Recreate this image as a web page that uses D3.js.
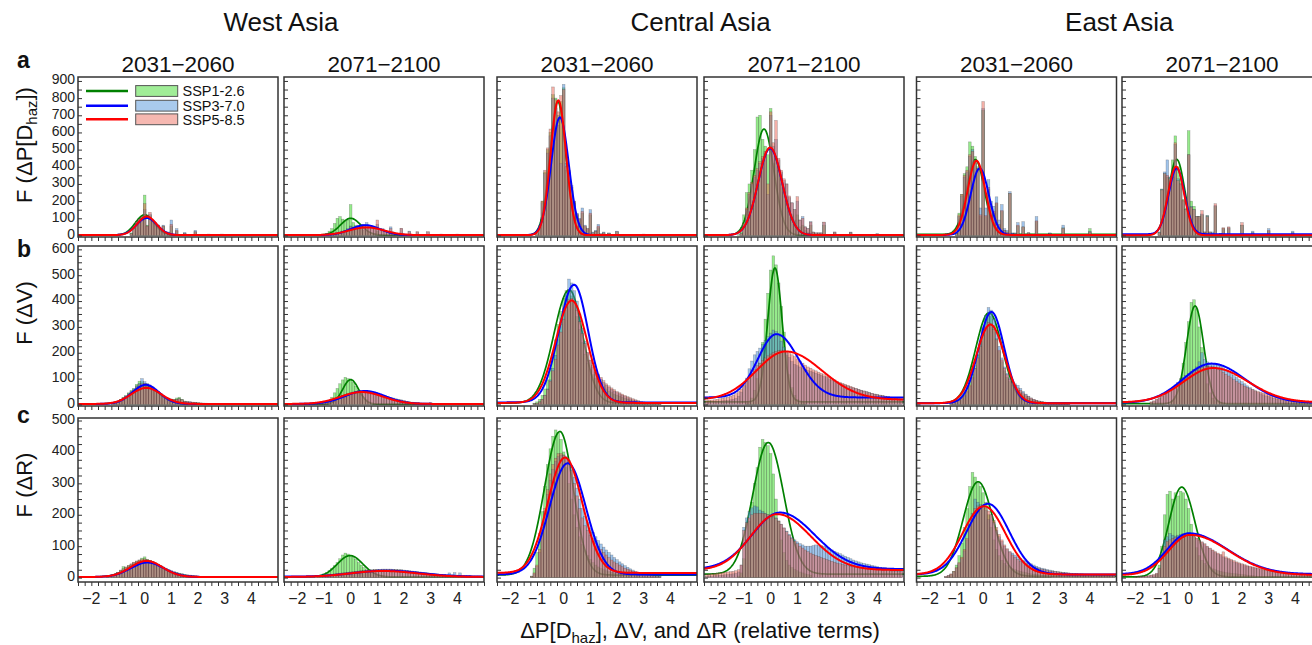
<!DOCTYPE html>
<html><head><meta charset="utf-8">
<script src="https://cdn.jsdelivr.net/npm/d3@7"></script>
<style>body{margin:0;background:#fff;} svg{display:block;font-family:"Liberation Sans",Arial,Helvetica,sans-serif;}</style>
</head><body><svg id="chart" width="1312" height="645"></svg>
<script>
// ---------- labels ----------
const regions = ["West Asia", "Central Asia", "East Asia"];
const periods = ["2031\u22122060", "2071\u22122100"];
const scenarios = ["SSP1-2.6", "SSP3-7.0", "SSP5-8.5"];
const rowLetters = ["a", "b", "c"];
const xTickLabels = [-2, -1, 0, 1, 2, 3, 4];
const yTickLabelsA = [0, 100, 200, 300, 400, 500, 600, 700, 800, 900];
const yTickLabelsB = [0, 100, 200, 300, 400, 500, 600];
const yTickLabelsC = [0, 100, 200, 300, 400, 500];
const binWidth = 0.1;

// ---------- histograms: [SSP1-2.6, SSP3-7.0, SSP5-8.5], starts = first bin centre ----------
const startsA1 = [-0.5, -0.5, -0.5];
const countsA1 = [
 [15,50,80,100,110,235,60,115,85,70,60,35,55,20,15,55,5,25,0,0,10,0,0,0,20,0,0,0,0,5,0,0,0,0,5],
 [10,40,75,95,105,150,55,125,90,75,60,40,60,20,20,90,5,40,0,0,18,0,0,0,30,0,0,0,0,8,0,0,0,0,8],
 [10,40,80,95,110,185,55,135,85,70,60,40,55,20,15,65,5,30,0,0,12,0,0,0,22,0,0,0,0,6,0,0,0,0,6]];
const startsA2 = [-1.0, -1.0, -1.0];
const countsA2 = [
 [5,10,25,40,70,100,110,95,85,90,180,75,60,45,40,30,25,20,15,10,25,5,5,5,0,10,0,0,0,10,0,0,8],
 [0,2,5,8,12,15,20,25,30,40,55,45,50,55,60,65,75,60,55,45,65,35,40,30,25,50,20,10,10,40,5,5,25,5,5,20,0,0,0,20,0,0,0,0,8,0,0,0,0,0,8],
 [0,2,4,6,10,12,18,22,28,35,50,42,45,50,52,55,60,58,50,45,90,35,35,30,25,40,20,10,10,42,5,5,22,5,5,22,0,0,0,22,0,0,0,0,5,0,0,0,0,0,5]];
const startsA3 = [-1.0, -1.0, -1.0];
const countsA3 = [
 [10,50,200,370,500,600,820,800,700,780,860,380,350,260,190,120,90,130,50,35,120,15,25,45,8,15,5,12,0,0,20,0,0,0,0,5,0,0,0,0,6],
 [5,45,190,360,480,580,800,740,640,420,880,420,380,290,200,130,100,160,60,40,150,20,30,65,10,20,5,15,0,0,25,0,0,0,0,5,0,0,0,0,8],
 [10,55,200,380,510,620,865,790,720,815,850,400,370,280,200,125,95,140,55,40,130,15,25,55,8,15,5,12,0,0,22,0,0,0,0,5,0,0,0,0,6]];
const startsA4 = [-1.2, -1.2, -1.2];
const countsA4 = [
 [5,20,120,250,300,380,500,690,700,560,520,470,740,420,450,380,300,250,200,150,120,90,120,50,60,30,20,60,15,10,10,10,60,5,5,5,15,5,0,0,0,0,15,0,0,0,0,0,0,0,0,0,8],
 [0,10,60,150,240,300,340,380,420,450,480,240,700,520,560,440,370,320,300,220,190,150,200,90,110,50,40,80,20,15,15,15,75,5,5,5,20,5,0,0,0,0,20,0,0,0,0,0,0,0,0,0,10],
 [0,10,70,160,250,310,350,390,430,460,490,300,720,540,670,450,380,330,300,230,190,150,226,90,100,50,40,78,20,15,15,15,78,5,5,5,20,5,0,0,0,0,18,0,0,0,0,0,0,0,0,0,8]];
const startsA5 = [-1.0, -1.0, -1.0];
const countsA5 = [
 [15,130,240,360,400,545,520,460,400,110,730,110,270,165,130,185,60,140,30,20,245,10,10,55,5,50,5,15,5,5,80,0,0,0,0,12,0,0,0,0,45,0,0,0,0,0,0,0,0,0,40],
 [10,110,230,340,370,460,500,420,380,160,740,160,325,200,170,225,90,180,40,30,255,15,15,75,5,80,5,15,5,5,110,0,0,0,0,15,0,0,0,0,60,0,0,0,0,0,0,0,0,0,25],
 [10,120,240,350,380,470,490,440,390,120,780,115,280,170,140,190,65,145,30,20,245,10,10,60,5,50,5,15,8,5,85,0,0,0,0,10,0,0,0,0,42,0,0,0,0,0,0,0,0,0,20]];
const startsA6 = [-1.1, -1.1, -1.1];
const countsA6 = [
 [20,270,360,340,340,440,580,400,330,210,160,610,200,170,110,110,120,20,115,20,10,170,5,10,40,5,40,5,5,5,5,60,0,0,0,15,0,0,0,0,0,25,0,0,0,0,0,0,0,0,15],
 [20,270,370,440,340,340,530,330,300,200,150,470,170,150,110,110,125,20,115,20,20,175,5,10,40,5,45,5,5,5,5,60,0,0,0,25,0,0,0,0,0,40,0,0,0,0,0,0,0,0,25],
 [15,265,360,350,330,340,540,320,300,205,150,470,165,150,110,110,145,20,110,20,10,185,5,10,45,5,50,5,5,5,5,75,0,0,0,15,0,0,0,0,0,30,0,0,0,0,0,0,0,0,15]];

const startsB1 = [-1.2, -1.2, -1.2];
const countsB1 = [
 [4,7,12,20,28,35,45,55,62,78,90,88,80,78,70,62,52,45,38,30,25,22,20,20,25,28,20,12,10,9,8,7,6,5,4,4,3,3,3,2,2,2,2],
 [5,8,12,18,25,32,42,50,60,72,82,100,88,82,75,68,58,50,42,33,27,23,20,18,20,22,18,12,10,10,8,8,6,5,5,4,4,3,3,3,2,2,2],
 [6,9,13,18,25,32,40,48,56,68,76,80,82,78,70,64,55,48,40,32,27,24,21,19,20,22,18,13,11,10,9,8,7,6,5,5,4,4,3,3,3,2,2]];
const startsB2 = [-1.6, -1.6, -1.6];
const countsB2 = [
 [0,0,0,1,2,3,5,8,15,28,45,62,80,95,105,100,95,85,70,55,40,28,18,10,6,4,3,2,2,1,1],
 [2,3,4,5,6,8,10,12,15,18,22,26,30,34,38,42,45,48,50,52,53,54,53,52,50,47,44,40,37,34,30,27,25,22,20,18,15,12,10,8,7,6,5,5,4,4,8,3,3,2,2,2],
 [2,3,4,5,6,8,10,12,15,18,21,25,29,33,37,40,43,45,47,48,49,48,47,46,44,42,39,36,33,30,27,25,22,20,18,16,14,12,10,9,8,7,6,5,5,4,4,3,3,2,2,2]];
const startsB3 = [-1.1, -1.1, -1.1];
const countsB3 = [
 [5,10,20,35,60,95,140,190,250,310,360,410,440,445,420,390,340,290,240,195,160,135,115,100,90,78,68,60,52,46,40,36,32,28,24,20,17,14,11,9,8,6,5,4,3,3,2,2],
 [2,4,10,20,36,60,95,140,190,250,310,370,430,485,470,440,400,350,295,245,200,170,145,125,112,98,85,75,66,58,52,46,41,36,31,26,22,18,15,12,10,8,6,5,4,3,3,2],
 [3,5,10,20,35,58,90,130,175,230,280,330,375,405,410,395,365,320,275,235,200,172,150,132,118,105,92,80,72,64,57,50,45,40,35,30,26,22,18,15,12,10,8,6,5,4,3,3]];
const startsB4 = [-0.9, -2.4, -2.4];
const countsB4 = [
 [5,12,25,55,100,160,240,330,430,520,575,540,470,380,280,190,115,65,35,20,12,7,4],
 [10,10,11,12,12,13,14,15,16,18,20,24,32,48,72,102,138,168,192,205,218,232,248,262,276,288,282,265,245,222,200,182,166,155,150,145,140,136,132,128,125,121,117,113,108,104,99,94,90,86,82,78,75,71,67,64,61,58,55,52,49,46,43,40,38,36,34,32,30,28,26,24,22,21],
 [15,16,17,18,20,22,24,26,28,32,36,42,50,60,75,90,105,120,135,150,160,170,180,188,195,200,205,208,210,208,205,200,192,185,176,168,160,152,145,140,134,130,125,120,115,110,105,100,95,90,86,82,78,74,70,66,62,58,55,52,49,46,43,40,38,36,34,32,30,28,26,24,22,21]];
const startsB5 = [-1.2, -1.2, -1.2];
const countsB5 = [
 [8,12,18,28,42,55,70,90,118,150,195,245,295,335,350,340,305,255,205,165,130,105,88,75,64,54,45,37,30,25,20,16,13,11,9,8,7,6,5,4,4,3,3,2,2],
 [4,7,10,15,22,32,48,70,100,140,190,245,300,345,375,365,330,280,225,180,145,120,100,88,80,74,62,50,40,32,25,20,16,13,11,9,8,7,6,5,4,4,3,3,2],
 [5,8,12,18,26,36,52,75,105,140,180,225,268,300,318,312,290,250,210,172,140,115,97,84,74,64,54,45,37,30,25,20,16,13,11,9,8,7,6,5,4,4,3,3,2]];
const startsB6 = [-0.7, -1.4, -1.4];
const countsB6 = [
 [8,15,30,60,100,160,240,320,395,405,370,300,220,140,80,45,25,15,10,6,4],
 [8,12,18,25,32,40,48,56,65,75,85,95,105,112,120,128,136,145,165,200,175,165,160,158,155,152,148,142,136,128,120,112,104,96,88,80,72,65,58,52,46,41,37,33,30,27,24,21,19,17,15,14,13,12,11,10,10,9,9,8,8,8,7,7],
 [10,14,20,26,33,40,47,54,62,70,78,86,94,102,110,118,125,132,138,143,146,148,148,146,142,137,131,124,117,110,103,96,89,83,77,71,66,61,57,53,50,47,44,41,38,35,32,29,27,25,23,21,19,17,16,15,14,13,12,11,10,10,9,9]];

const startsC1 = [-1.4, -1.4, -1.4];
const countsC1 = [
 [3,5,8,12,17,24,35,33,38,42,48,52,56,62,66,58,55,50,46,42,37,32,28,24,21,18,16,14,12,10,8,7,6,5,4,4,3,3,3,2,2,2,2,2,2],
 [2,4,7,11,16,21,26,31,36,41,46,50,53,55,57,56,54,51,47,43,38,34,30,26,22,19,16,14,12,10,9,8,7,6,5,4,4,3,3,3,2,2,2,2,2],
 [3,5,8,12,17,23,29,34,39,44,49,53,56,59,60,58,55,51,47,42,37,32,27,23,20,17,14,12,10,8,7,6,5,4,4,3,3,3,2,2,2,2,2,2,2]];
const startsC2 = [-1.2, -2.0, -2.0];
const countsC2 = [
 [5,8,12,17,22,30,38,48,60,72,78,75,70,65,58,48,40,32,25,18,13,9,6,4,3,2,1],
 [1,1,2,2,3,3,4,4,5,6,7,8,9,10,11,12,13,14,15,16,17,18,19,20,21,22,23,24,25,25,26,26,27,27,27,27,26,26,25,25,24,23,22,21,20,19,18,17,16,15,14,13,12,11,10,10,9,15,9,16,8,15,7,7,6,6,5,5,5,4],
 [1,1,2,2,3,3,4,5,5,6,7,8,9,10,12,13,14,15,16,17,18,19,20,21,22,22,23,24,24,25,25,26,26,26,26,26,25,25,24,24,23,22,21,20,19,18,17,16,15,14,13,12,11,10,9,9,8,8,7,7,6,6,5,5,5,4,4,4,3,3]];
const startsC3 = [-1.2, -1.2, -1.2];
const countsC3 = [
 [5,30,80,140,210,290,360,410,450,470,460,440,400,350,300,250,200,160,130,105,85,70,58,48,40,34,29,25,22,19,17,15,13,11,10,9,8,7,6,5,5,4,4,3,3,3,2,2,2],
 [3,12,35,80,150,210,265,310,345,370,385,390,390,385,372,350,320,285,250,220,195,175,158,143,130,118,107,97,88,80,72,64,57,50,44,38,33,28,24,20,17,14,12,10,8,7,6,5,4],
 [4,15,40,90,160,220,280,330,360,380,395,395,390,380,365,340,300,260,220,190,165,150,135,125,110,100,90,80,72,64,56,50,45,40,35,30,27,24,20,17,14,12,10,8,7,6,5,4,3]];
const startsC4 = [-1.2, -2.4, -2.4];
const countsC4 = [
 [5,15,60,120,180,240,300,350,415,440,430,420,395,330,250,180,120,80,55,40,32,26,22,18,15,12,10,8],
 [4,5,5,6,6,7,8,9,10,11,12,14,18,40,160,190,210,222,228,225,215,210,205,200,198,195,190,180,170,158,148,138,128,120,114,108,104,100,100,100,102,104,104,102,100,96,92,88,84,80,76,72,68,64,60,56,53,50,47,45,43,41,39,37,35,33,32,31,30,29,28,27,26,25],
 [10,11,12,13,14,15,16,17,18,19,20,22,25,40,150,175,190,200,205,205,205,205,203,200,197,193,188,180,170,158,146,135,125,116,108,100,94,88,83,78,74,70,67,64,61,58,55,52,49,46,44,42,40,38,36,34,33,32,31,30,29,28,27,26,25,24,23,22,22,21,21,20,20,20]];
const startsC5 = [-1.4, -1.4, -1.4];
const countsC5 = [
 [2,5,10,20,40,70,110,160,220,290,335,320,300,290,270,240,200,160,120,90,70,55,45,38,32,28,25,22,20,18,16,14,12,11,10,9,8,7,6,5],
 [3,6,10,18,30,45,60,85,120,170,205,250,240,232,228,215,185,200,175,150,130,115,100,90,82,78,72,66,60,56,52,48,44,40,36,33,30,28,26,24,22,20,19,18,17,16,15,14,13,13,12,12,11,11,10,10,9,9,8,8,8,7,7,7],
 [4,7,12,20,32,48,65,90,125,165,195,220,228,228,225,220,212,200,182,160,138,120,104,92,82,72,65,58,52,48,44,40,37,34,31,29,27,25,23,21,20,19,18,17,16,15,14,13,12,12,11,11,10,10,9,9,8,8,8,7,7,7,6,6]];
const startsC6 = [-1.3, -2.0, -2.0];
const countsC6 = [
 [3,10,40,100,200,265,275,250,270,260,275,270,250,220,170,130,95,70,55,45,38,32,28,25,22,20,18,16,15,14,13,12,11,10,9,8,7,6,5],
 [2,2,3,3,4,5,6,8,12,30,80,120,130,140,135,132,135,138,140,140,138,135,130,124,118,112,105,98,92,86,80,75,70,66,62,58,54,50,47,44,41,38,36,34,32,30,28,26,24,22,21,20,19,18,17,16,15,14,14,13,13,12,12,11,11,10,10,10,9,9],
 [3,3,4,4,5,6,8,10,14,30,70,100,115,120,125,128,130,132,134,135,135,134,130,126,120,114,108,100,94,88,83,78,74,82,66,62,58,54,50,47,44,41,38,36,34,32,30,28,26,24,22,21,20,19,18,17,16,15,14,13,12,12,11,11,10,10,10,9,9,9]];

// ---------- fitted curves: [amplitude, centre, sigma left, sigma right, baseline] ----------
const fitA1 = [[118,0.0,0.35,0.35,2],[100,0.08,0.38,0.38,2],[108,0.08,0.36,0.36,2]];
const fitA2 = [[98,0.0,0.38,0.38,2],[58,0.55,0.55,0.55,2],[45,0.6,0.65,0.65,2]];
const fitA3 = [[778,-0.22,0.30,0.30,2],[686,-0.14,0.33,0.33,2],[784,-0.2,0.29,0.29,2]];
const fitA4 = [[618,-0.25,0.37,0.37,2],[505,-0.02,0.45,0.45,2],[510,-0.02,0.45,0.45,2]];
const fitA5 = [[436,-0.29,0.33,0.33,6],[388,-0.13,0.34,0.34,3],[432,-0.25,0.33,0.33,3]];
const fitA6 = [[440,-0.45,0.30,0.30,3],[385,-0.45,0.30,0.30,7],[400,-0.47,0.30,0.30,1]];
const fitB1 = [[70,0.02,0.5,0.5,2],[74,0.04,0.5,0.5,2],[62,0.06,0.56,0.56,2]];
const fitB2 = [[95,0.0,0.3,0.3,1],[50,0.54,0.75,0.75,2],[46,0.42,0.8,0.8,2]];
const fitB3 = [[438,0.21,0.58,0.5,5],[455,0.39,0.57,0.53,8],[396,0.3,0.6,0.58,6]];
const fitB4 = [[518,0.16,0.27,0.27,10],[245,0.22,0.7,0.83,27],[187,0.57,1.1,1.35,18]];
const fitB5 = [[350,0.22,0.5,0.5,5],[353,0.31,0.48,0.48,5],[304,0.27,0.53,0.53,5]];
const fitB6 = [[378,0.24,0.32,0.32,3],[152,0.86,1.07,1.25,6],[133,0.92,1.1,1.3,8]];
const fitC1 = [[50,0.05,0.6,0.6,2],[46,0.1,0.62,0.62,2],[51,0.07,0.6,0.6,2]];
const fitC2 = [[68,-0.02,0.48,0.48,2],[19,1.3,1.2,1.3,3],[19,1.2,1.2,1.3,2]];
const fitC3 = [[457,-0.14,0.58,0.5,8],[354,0.15,0.68,0.68,10],[367,0.05,0.65,0.65,15]];
const fitC4 = [[419,-0.09,0.58,0.58,11],[180,0.35,1.05,1.3,27],[178,0.25,1.0,1.25,24]];
const fitC5 = [[301,-0.19,0.56,0.56,4],[225,0.18,0.8,0.8,10],[217,0.03,0.8,0.8,10]];
const fitC6 = [[286,-0.26,0.48,0.5,2],[130,0.0,0.8,1.45,11],[128,0.05,0.8,1.45,8]];

// ---------- assemble ----------
const panels = [
 [countsA1,startsA1,fitA1],[countsA2,startsA2,fitA2],[countsA3,startsA3,fitA3],
 [countsA4,startsA4,fitA4],[countsA5,startsA5,fitA5],[countsA6,startsA6,fitA6],
 [countsB1,startsB1,fitB1],[countsB2,startsB2,fitB2],[countsB3,startsB3,fitB3],
 [countsB4,startsB4,fitB4],[countsB5,startsB5,fitB5],[countsB6,startsB6,fitB6],
 [countsC1,startsC1,fitC1],[countsC2,startsC2,fitC2],[countsC3,startsC3,fitC3],
 [countsC4,startsC4,fitC4],[countsC5,startsC5,fitC5],[countsC6,startsC6,fitC6]];
const yTickLabels = [yTickLabelsA, yTickLabelsB, yTickLabelsC];
const yTickStep = [50, 25, 25];

// ---------- layout / style ----------
const svg = d3.select("#chart");
const panelLefts = [78, 284, 497, 704, 916.5, 1122];
const panelW = 200;
const xDomain = [-2.5, 5];
const rowBox = [
 {top: 77, bottom: 237, dom: [-9, 923]},
 {top: 246, bottom: 406, dom: [-6, 613]},
 {top: 418, bottom: 582, dom: [-14, 508]}];
const fillCol = ["#2dd719", "#4189d7", "#ea6152"];
const lineCol = ["#008000", "#0000ff", "#ff0000"];
const frameCol = "#333";
const defs = svg.append("defs");

function fitValue(p, v) {
  const s = v < p[1] ? p[2] : p[3];
  return p[4] + p[0] * Math.exp(-0.5 * ((v - p[1]) / s) ** 2);
}
const xSamples = d3.range(xDomain[0], xDomain[1] + 1e-9, 0.02);

panels.forEach((pd, k) => {
  const [counts, starts, fits] = pd;
  const row = Math.floor(k / 6), col = k % 6;
  const x0 = panelLefts[col];
  const rb = rowBox[row];
  const x = d3.scaleLinear().domain(xDomain).range([x0, x0 + panelW]);
  const y = d3.scaleLinear().domain(rb.dom).range([rb.bottom, rb.top]);
  const cid = "clip" + k;
  defs.append("clipPath").attr("id", cid).append("rect")
    .attr("x", x0).attr("y", rb.top).attr("width", panelW).attr("height", rb.bottom - rb.top);
  const g = svg.append("g");
  const inner = g.append("g").attr("clip-path", `url(#${cid})`);
  const bw = x(binWidth) - x(0);
  const drawHist = s => {
    const bins = counts[s].map((c, i) => ({c, m: starts[s] + i * binWidth})).filter(d => d.c > 0);
    inner.append("g").selectAll("rect").data(bins).join("rect")
      .attr("x", d => x(d.m - binWidth / 2))
      .attr("width", bw)
      .attr("y", d => y(d.c))
      .attr("height", d => y(0) - y(d.c))
      .attr("fill", fillCol[s]).attr("fill-opacity", 0.5)
      .attr("stroke", "#333").attr("stroke-opacity", 0.4).attr("stroke-width", 0.5);
  };
  const drawCurve = s => {
    const line = d3.line().x(v => x(v)).y(v => y(fitValue(fits[s], v)));
    inner.append("path").datum(xSamples).attr("d", line)
      .attr("fill", "none").attr("stroke", lineCol[s])
      .attr("stroke-width", s === 0 ? 1.7 : 2);
  };
  drawHist(0); drawCurve(0); drawHist(1); drawHist(2); drawCurve(1); drawCurve(2);
  // y ticks (inside, left)
  const yMax = yTickLabels[row][yTickLabels[row].length - 1];
  const yAx = d3.axisRight(y).tickValues(d3.range(0, yMax + 1, yTickStep[row])).tickSize(4).tickFormat("");
  const ya = g.append("g").attr("transform", `translate(${x0},0)`).call(yAx);
  ya.select(".domain").remove();
  ya.selectAll("line").attr("stroke", frameCol);
  // x ticks (outside, bottom)
  const xAx = d3.axisBottom(x).tickValues(d3.range(-2.5, 5.001, 0.25)).tickSize(4).tickFormat("");
  const xa = g.append("g").attr("transform", `translate(0,${rb.bottom})`).call(xAx);
  xa.select(".domain").remove();
  xa.selectAll("line").attr("stroke", frameCol);
  // frame
  g.append("rect").attr("x", x0).attr("y", rb.top).attr("width", panelW).attr("height", rb.bottom - rb.top)
    .attr("fill", "none").attr("stroke", frameCol).attr("stroke-width", 1.5);
  if (col === 0) {
    g.selectAll("text.yl").data(yTickLabels[row]).join("text")
      .attr("x", x0 - 3).attr("y", d => y(d) - 1.5).attr("dy", "0.35em")
      .attr("text-anchor", "end").attr("font-size", 14).attr("fill", "#222")
      .text(d => d);
  }
  if (row === 2) {
    g.selectAll("text.xl").data(xTickLabels).join("text")
      .attr("x", d => x(d)).attr("y", 604)
      .attr("text-anchor", "middle").attr("font-size", 16).attr("fill", "#222")
      .text(d => d < 0 ? "\u2212" + Math.abs(d) : d);
  }
  if (row === 0) {
    g.append("text").attr("x", x0 + panelW / 2).attr("y", 72)
      .attr("text-anchor", "middle").attr("font-size", 22.5).attr("fill", "#111")
      .text(periods[col % 2]);
  }
});

// region titles
regions.forEach((r, i) => {
  const cx = (panelLefts[2 * i] + panelLefts[2 * i + 1] + panelW) / 2;
  svg.append("text").attr("x", cx).attr("y", 31).attr("text-anchor", "middle")
    .attr("font-size", 26).attr("fill", "#111").text(r);
});

// row letters
const letterY = [68, 257, 423];
rowLetters.forEach((l, i) => {
  svg.append("text").attr("x", 17).attr("y", letterY[i]).attr("font-size", 23)
    .attr("font-weight", "bold").attr("fill", "#111").text(l);
});

// y axis titles (rotated)
const yTitleY = [145, 313, 485];
function yTitle(cy, parts) {
  const t = svg.append("text").attr("transform", `translate(32,${cy}) rotate(-90)`)
    .attr("text-anchor", "middle").attr("font-size", 22).attr("fill", "#111");
  parts.forEach(p => {
    const ts = t.append("tspan").text(p.t);
    if (p.sub) ts.attr("font-size", 15).attr("dy", 5);
    if (p.after) ts.attr("dy", -5);
  });
}
yTitle(yTitleY[0], [{t: "F (\u0394P[D"}, {t: "haz", sub: true}, {t: "])", after: true}]);
yTitle(yTitleY[1], [{t: "F (\u0394V)"}]);
yTitle(yTitleY[2], [{t: "F (\u0394R)"}]);

// x axis title
const xt = svg.append("text").attr("x", 700).attr("y", 638).attr("text-anchor", "middle")
  .attr("font-size", 22).attr("fill", "#111");
xt.append("tspan").text("\u0394P[D");
xt.append("tspan").text("haz").attr("font-size", 15).attr("dy", 5);
xt.append("tspan").text("], \u0394V, and \u0394R (relative terms)").attr("dy", -5);

// legend (panel a, first column)
const legY = [91, 105.7, 119.3];
scenarios.forEach((s, i) => {
  svg.append("line").attr("x1", 86).attr("x2", 128).attr("y1", legY[i]).attr("y2", legY[i])
    .attr("stroke", lineCol[i]).attr("stroke-width", 2.4);
  svg.append("rect").attr("x", 135.7).attr("y", legY[i] - 5.4).attr("width", 42).attr("height", 10.8)
    .attr("fill", fillCol[i]).attr("fill-opacity", 0.45)
    .attr("stroke", "#555").attr("stroke-width", 1);
  svg.append("text").attr("x", 182.5).attr("y", legY[i]).attr("dy", "0.36em")
    .attr("font-size", 14.5).attr("fill", "#111").text(s);
});
</script>
</body></html>
